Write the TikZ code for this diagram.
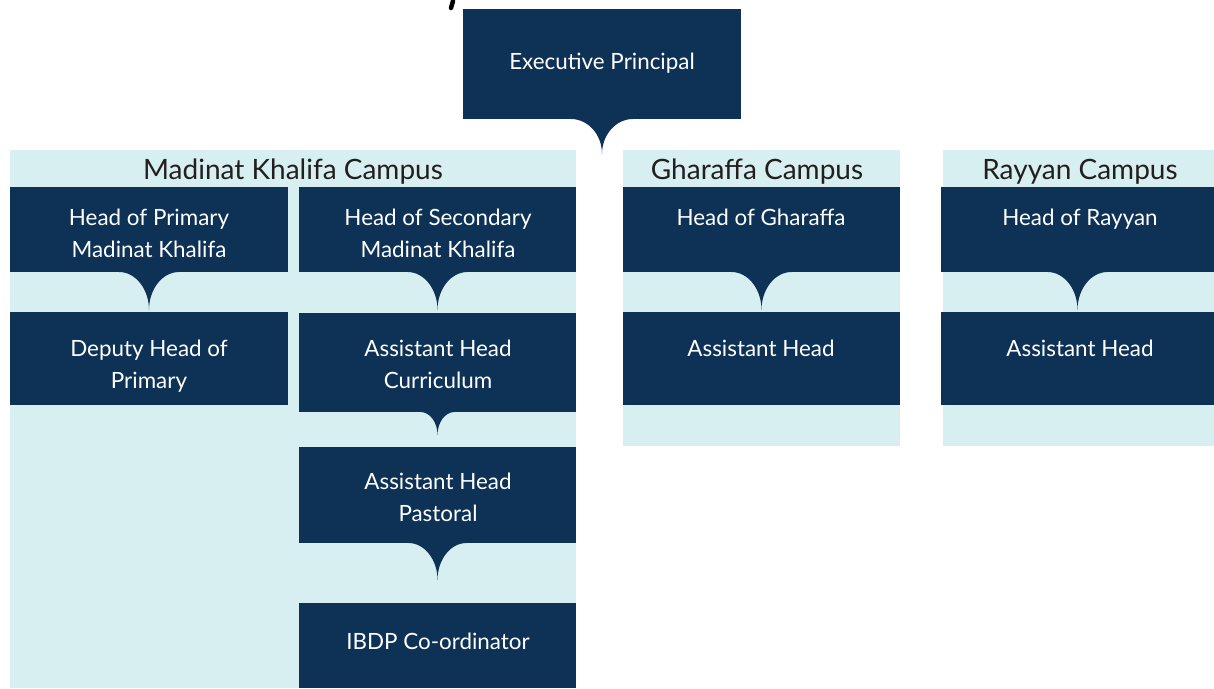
\documentclass[tikz,border=0pt]{standalone}
\usepackage{fontspec}
\setmainfont{Lato}
\definecolor{navy}{HTML}{0D3256}
\definecolor{lightbg}{HTML}{D8EFF2}
\definecolor{titlecol}{HTML}{231F20}
\newcommand{\notchfill}[3]{% node, half width, height
  \fill[navy] ([xshift=-#2pt]#1.south) arc[start angle=90,end angle=0,x radius=#2pt,y radius=#3pt]
    arc[start angle=180,end angle=90,x radius=#2pt,y radius=#3pt] -- cycle;}
\begin{document}
\begin{tikzpicture}[x=1pt,y=-1pt,
  bg/.style={fill=lightbg,inner sep=0,outer sep=0,draw=none},
  box/.style={fill=navy,inner sep=0,outer sep=0,draw=none},
  boxtext/.style={text=white,align=center,anchor=base,inner sep=0,font=\fontsize{22.4}{32}\selectfont},
  titletext/.style={text=titlecol,anchor=base,inner sep=0,font=\fontsize{28}{32}\selectfont}]
\useasboundingbox (0,0) rectangle (1214,688);
% stray stroke
\draw[line width=4.5pt,line cap=round,black] (453,1) -- (451,8);
% backgrounds
\node[bg,minimum width=566pt,minimum height=538pt] (mkbg) at (293,419) {};
\node[bg,minimum width=277pt,minimum height=296pt] (ghbg) at (761.5,298) {};
\node[bg,minimum width=271pt,minimum height=296pt] (rybg) at (1078.5,298) {};
% titles
\node[titletext] (mkt) at (293,179) {Madinat Khalifa Campus};
\node[titletext] (ght) at (757,179) {Gharaffa Campus};
\node[titletext] (ryt) at (1080,179) {Rayyan Campus};
% boxes
\node[box,minimum width=278pt,minimum height=110pt] (ep) at (602,64) {};
\node[box,minimum width=278pt,minimum height=85pt] (hop) at (149,229.5) {};
\node[box,minimum width=277pt,minimum height=85pt] (hos) at (437.5,229.5) {};
\node[box,minimum width=278pt,minimum height=93pt] (dhp) at (149,358.5) {};
\node[box,minimum width=277pt,minimum height=99pt] (ahc) at (437.5,362.5) {};
\node[box,minimum width=277pt,minimum height=96pt] (ahp) at (437.5,495) {};
\node[box,minimum width=277pt,minimum height=85pt] (ibdp) at (437.5,645.5) {};
\node[box,minimum width=277pt,minimum height=85pt] (hog) at (761.5,229.5) {};
\node[box,minimum width=277pt,minimum height=93pt] (ahg) at (761.5,358.5) {};
\node[box,minimum width=273pt,minimum height=85pt] (hor) at (1077.5,229.5) {};
\node[box,minimum width=273pt,minimum height=93pt] (ahr) at (1077.5,358.5) {};
% notches
\notchfill{ep}{31}{35}
\notchfill{hop}{30}{38}
\notchfill{hos}{30}{38}
\notchfill{ahc}{17}{23}
\notchfill{ahp}{29}{37}
\notchfill{hog}{30}{38}
\notchfill{hor}{30}{38}
% texts (base anchor = last line baseline)
\node[boxtext] (ept) at (602,69) {Executive Principal};
\node[boxtext] (hopt) at (149,257) {Head of Primary\\Madinat Khalifa};
\node[boxtext] (host) at (438,257) {Head of Secondary\\Madinat Khalifa};
\node[boxtext] (dhpt) at (149,388) {Deputy Head of\\Primary};
\node[boxtext] (ahct) at (438,388) {Assistant Head\\Curriculum};
\node[boxtext] (ahpt) at (438,521) {Assistant Head\\Pastoral};
\node[boxtext] (ibdpt) at (438,649) {IBDP Co-ordinator};
\node[boxtext] (hogt) at (761,225) {Head of Gharaffa};
\node[boxtext] (ahgt) at (761,356) {Assistant Head};
\node[boxtext] (hort) at (1080,225) {Head of Rayyan};
\node[boxtext] (ahrt) at (1080,356) {Assistant Head};
\end{tikzpicture}
\end{document}
